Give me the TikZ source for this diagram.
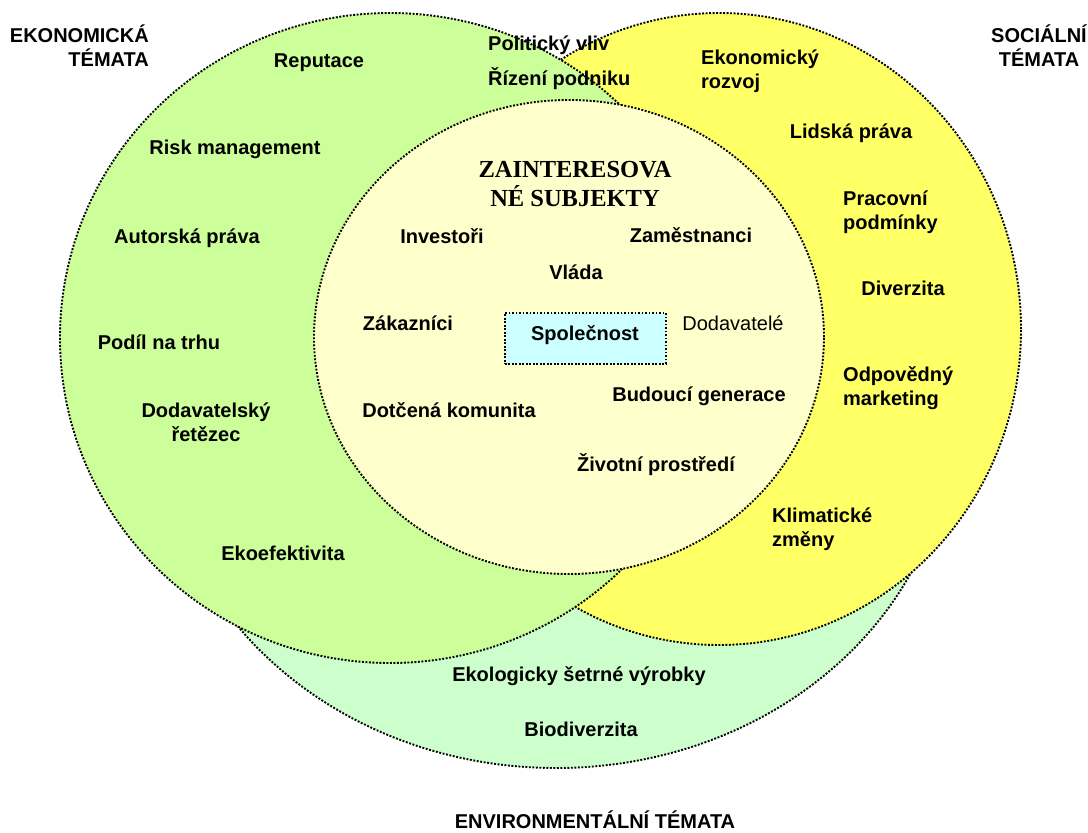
\documentclass[tikz,border=0pt]{standalone}
\usepackage{fontspec}
\setmainfont{Liberation Sans}
\newfontfamily\titlefont{Liberation Serif}
\definecolor{envgreen}{RGB}{204,255,204}
\definecolor{ecogreen}{RGB}{204,255,153}
\definecolor{socyellow}{RGB}{255,255,102}
\definecolor{innercol}{RGB}{255,255,204}
\definecolor{boxcol}{RGB}{204,255,255}
\begin{document}
\begin{tikzpicture}[x=1pt,y=-1pt,
  venn/.style={draw=black, line width=1.9pt, dash pattern=on 1.9pt off 1.6pt},
  lbl/.style={inner sep=0pt, font=\fontsize{20}{24}\selectfont\bfseries},
  plain/.style={inner sep=0pt, font=\fontsize{20}{24}\selectfont},
  title/.style={inner sep=0pt, align=center, font=\fontsize{24.5}{29}\selectfont\titlefont\bfseries},
  corebox/.style={venn, fill=boxcol}]
\useasboundingbox (0,0) rectangle (1088,833);
% circles
\draw[venn, fill=envgreen] (556,420) ellipse [x radius=395pt, y radius=348pt];
\draw[venn, fill=socyellow] (719,329) ellipse [x radius=302pt, y radius=316pt];
\draw[venn, fill=ecogreen] (390,338) ellipse [x radius=330pt, y radius=325pt];
\draw[venn, fill=innercol] (569,337) ellipse [x radius=255pt, y radius=237pt];
\node[corebox, minimum width=161pt, minimum height=51pt, anchor=north west] (box) at (504,312) {};
\node[lbl, anchor=base] (spol) at (585,340) {Společnost};
% headings
\node[lbl, align=right, anchor=east] (eko) at (149,45.5) {EKONOMICKÁ\\TÉMATA};
\node[lbl, align=center] (soc) at (1039,45.5) {SOCIÁLNÍ\\TÉMATA};
\node[lbl, anchor=base] (env) at (595,828) {ENVIRONMENTÁLNÍ TÉMATA};
\node[title] (zs) at (575,184) {ZAINTERESOVA\\NÉ SUBJEKTY};
% economic
\node[lbl, anchor=base] (rep) at (319,67) {Reputace};
\node[lbl, anchor=base west] (pol) at (488,50) {Politický vliv};
\node[lbl, anchor=base west] (riz) at (488,85) {Řízení podniku};
\node[lbl, anchor=base] (risk) at (235,154) {Risk management};
\node[lbl, anchor=base] (aut) at (187,243) {Autorská práva};
\node[lbl, anchor=base] (pod) at (159,349) {Podíl na trhu};
\node[lbl, align=center] (dod) at (206,422) {Dodavatelský\\řetězec};
\node[lbl, anchor=base] (ekoef) at (283,560) {Ekoefektivita};
% social
\node[lbl, align=left, anchor=west] (ekr) at (701,71) {Ekonomický\\rozvoj};
\node[lbl, anchor=base] (lid) at (851,138) {Lidská práva};
\node[lbl, align=left, anchor=west] (prac) at (843,212) {Pracovní\\podmínky};
\node[lbl, anchor=base] (div) at (903,295) {Diverzita};
\node[lbl, align=left, anchor=west] (odp) at (843,388) {Odpovědný\\marketing};
\node[lbl, align=left, anchor=west] (klim) at (772,529) {Klimatické\\změny};
% environmental
\node[lbl, anchor=base] (ekol) at (579,681) {Ekologicky šetrné výrobky};
\node[lbl, anchor=base] (bio) at (581,736) {Biodiverzita};
% stakeholders
\node[lbl, anchor=base] (inv) at (442,243) {Investoři};
\node[lbl, anchor=base] (zam) at (691,242) {Zaměstnanci};
\node[lbl, anchor=base] (vla) at (576,279) {Vláda};
\node[lbl, anchor=base] (zak) at (408,330) {Zákazníci};
\node[plain, anchor=base] (dodav) at (733,330) {Dodavatelé};
\node[lbl, anchor=base] (bud) at (699,401) {Budoucí generace};
\node[lbl, anchor=base] (dot) at (449,417) {Dotčená komunita};
\node[lbl, anchor=base] (ziv) at (656,471) {Životní prostředí};
\end{tikzpicture}
\end{document}
